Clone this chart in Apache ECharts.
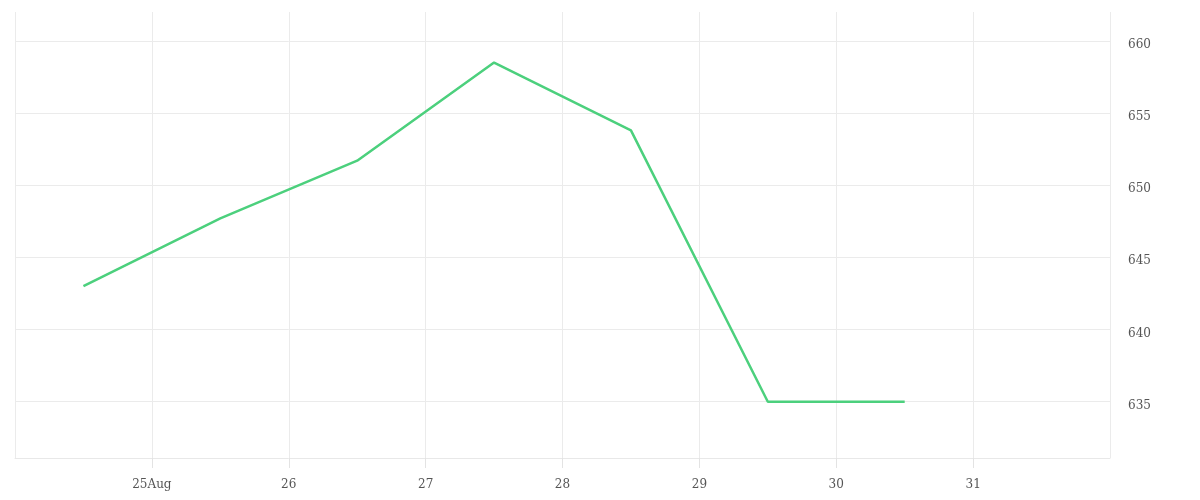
<!DOCTYPE html>
<html>
<head>
<meta charset="utf-8">
<script src="https://cdn.jsdelivr.net/npm/echarts@6/dist/echarts.min.js"></script>
<style>html,body{margin:0;padding:0;background:#fff;}#chart{width:1200px;height:500px;}</style>
</head>
<body>
<div id="chart"></div>
<script>
const dates = ['2024-08-24T12:00:00Z', '2024-08-25T12:00:00Z', '2024-08-26T12:00:00Z', '2024-08-27T12:00:00Z', '2024-08-28T12:00:00Z', '2024-08-29T12:00:00Z', '2024-08-30T12:00:00Z'];
const values = [643.0, 647.7, 651.7, 658.5, 653.8, 635.0, 635.0];
const yTicks = [635, 640, 645, 650, 655, 660];
const xMin = '2024-08-24T00:00:00Z';
const xMax = '2024-09-01T00:00:00Z';
const yMin = 631.1;
const yMax = 662.0;

const DAY = 86400000;
const toTs = s => new Date(s).getTime();

const chart = echarts.init(document.getElementById('chart'));
const font = 'DejaVu Serif';
chart.setOption({
  animation: false,
  grid: { left: 15, right: 90, top: 12, bottom: 42, containLabel: false },
  xAxis: {
    type: 'value',
    min: toTs(xMin),
    max: toTs(xMax),
    interval: DAY,
    axisLine: { show: true, lineStyle: { color: '#e8e8e8', width: 1 } },
    axisTick: { show: true, length: 10, lineStyle: { color: '#e3e3e3', width: 1 } },
    splitLine: { show: true, lineStyle: { color: '#ebebeb', width: 1 } },
    axisLabel: {
      showMinLabel: false,
      showMaxLabel: false,
      margin: 21,
      fontFamily: font,
      fontSize: 12,
      color: '#555',
      formatter: function (v) {
        const d = new Date(v);
        const day = d.getUTCDate();
        if (v <= toTs(xMin) || v >= toTs(xMax)) return '';
        return day === 25 ? '25Aug' : String(day);
      }
    }
  },
  yAxis: {
    type: 'value',
    position: 'right',
    min: yMin,
    max: yMax,
    axisLine: { show: false },
    axisTick: { show: false, customValues: yTicks },
    splitLine: { show: true, lineStyle: { color: '#ebebeb', width: 1 } },
    axisLabel: {
      customValues: yTicks,
      margin: 18,
      verticalAlign: 'top',
      lineHeight: 8,
      fontFamily: font,
      fontSize: 12,
      color: '#555'
    }
  },
  series: [{
    type: 'line',
    data: dates.map((d, i) => [toTs(d), values[i]]),
    showSymbol: false,
    lineStyle: { color: '#4cd07d', width: 2.5 },
    itemStyle: { color: '#4cd07d' }
  }]
});
</script>
</body>
</html>
